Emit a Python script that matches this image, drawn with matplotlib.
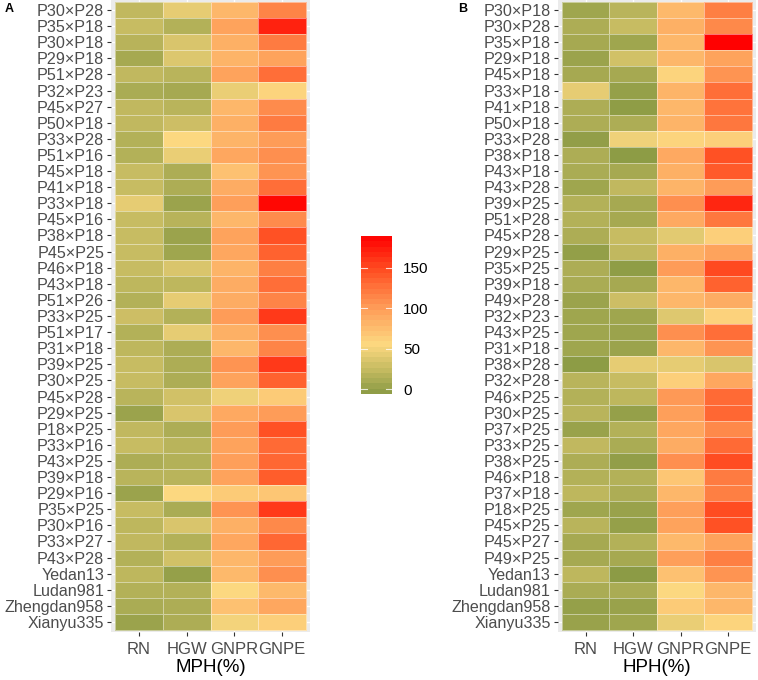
import matplotlib
matplotlib.use('Agg')
import matplotlib.pyplot as plt
import numpy as np
from matplotlib.colors import LinearSegmentedColormap, Normalize
from matplotlib.cm import ScalarMappable

plt.rcParams['font.family'] = ['Liberation Sans', 'DejaVu Sans']

traits = ['RN', 'HGW', 'GNPR', 'GNPE']

rows_a = ['P30×P28', 'P35×P18', 'P30×P18', 'P29×P18', 'P51×P28', 'P32×P23',
          'P45×P27', 'P50×P18', 'P33×P28', 'P51×P16', 'P45×P18', 'P41×P18',
          'P33×P18', 'P45×P16', 'P38×P18', 'P45×P25', 'P46×P18', 'P43×P18',
          'P51×P26', 'P33×P25', 'P51×P17', 'P31×P18', 'P39×P25', 'P30×P25',
          'P45×P28', 'P29×P25', 'P18×P25', 'P33×P16', 'P43×P25', 'P39×P18',
          'P29×P16', 'P35×P25', 'P30×P16', 'P33×P27', 'P43×P28', 'Yedan13',
          'Ludan981', 'Zhengdan958', 'Xianyu335']
rn_a = [22, 25, 17, 8, 22, 10, 22, 22, 15, 15, 25, 25, 42, 25, 25, 25, 25, 20,
        15, 28, 15, 20, 25, 25, 18, 3, 22, 25, 12, 18, 3, 25, 20, 22, 15, 20,
        15, 10, 3]
hgw_a = [42, 15, 35, 37, 18, 8, 18, 28, 55, 45, 12, 12, 3, 17, 3, 5, 35, 20,
         42, 15, 42, 12, 12, 12, 30, 35, 12, 18, 15, 18, 55, 10, 35, 15, 30, 0,
         15, 12, 12]
gnpr_a = [80, 95, 85, 82, 95, 45, 80, 85, 82, 92, 72, 88, 98, 80, 95, 92, 82, 88,
          88, 100, 85, 80, 105, 95, 48, 90, 100, 95, 98, 95, 65, 105, 85, 92, 80,
          78, 55, 72, 50]
gnpe_a = [115, 170, 120, 95, 128, 58, 110, 120, 100, 108, 105, 128, 185, 110,
          145, 135, 118, 128, 115, 158, 108, 115, 158, 135, 65, 100, 145, 130,
          132, 138, 68, 158, 112, 132, 100, 108, 78, 92, 62]

rows_b = ['P30×P18', 'P30×P28', 'P35×P18', 'P29×P18', 'P45×P18', 'P33×P18',
          'P41×P18', 'P50×P18', 'P33×P28', 'P38×P18', 'P43×P18', 'P43×P28',
          'P39×P25', 'P51×P28', 'P45×P28', 'P29×P25', 'P35×P25', 'P39×P18',
          'P49×P28', 'P32×P23', 'P43×P25', 'P31×P18', 'P38×P28', 'P32×P28',
          'P46×P25', 'P30×P25', 'P37×P25', 'P33×P25', 'P38×P25', 'P46×P18',
          'P37×P18', 'P18×P25', 'P45×P25', 'P45×P27', 'P49×P25', 'Yedan13',
          'Ludan981', 'Zhengdan958', 'Xianyu335']
rn_b = [5, 12, 8, 3, 8, 42, 12, 12, -2, 12, 10, 5, 15, 15, 12, -1, 12, 10, 3, 5,
        5, 5, -4, 18, 15, 18, 2, 22, 12, 15, 20, 5, 18, 8, 8, 20, 10, 0, 2]
hgw_b = [18, 25, 5, 30, 8, 0, -3, 12, 48, -4, 8, 22, 8, 8, 25, 22, -3, 8, 28, 5,
         3, 3, 42, 25, 20, 0, 15, 10, -2, 15, 12, 2, 0, 15, 8, -5, 10, 2, 5]
gnpr_b = [78, 85, 80, 80, 58, 82, 80, 82, 58, 90, 85, 82, 108, 90, 40, 85, 100,
          80, 80, 38, 108, 80, 42, 62, 102, 98, 92, 88, 108, 68, 80, 98, 95, 78,
          98, 72, 55, 65, 45]
gnpe_b = [118, 112, 188, 95, 105, 128, 125, 122, 62, 145, 140, 100, 168, 122, 62,
          95, 150, 135, 88, 60, 128, 105, 35, 92, 130, 132, 112, 130, 148, 120,
          118, 148, 145, 95, 118, 105, 80, 80, 58]

vmin, vmax = -6, 189
cb_ticks = [0, 50, 100, 150]

cmap = LinearSegmentedColormap.from_list('olive_red', [
    (0.0, '#8a9a44'),
    ((25 - vmin) / (vmax - vmin), '#c8bc62'),
    ((55 - vmin) / (vmax - vmin), '#fcd880'),
    ((100 - vmin) / (vmax - vmin), '#fe9c58'),
    ((145 - vmin) / (vmax - vmin), '#ff5224'),
    (1.0, '#ff0000')])
norm = Normalize(vmin=vmin, vmax=vmax)


def draw_panel(ax, rows, cols, xlabel):
    data = np.array(cols).T
    nr, nc = data.shape
    ax.set_facecolor('#ebebeb')
    for x in range(nc):
        ax.axvline(x + 0.5, color='white', lw=1.0, zorder=0)
    for y in range(nr):
        ax.axhline(y + 0.5, color='white', lw=1.0, zorder=0)
    ax.pcolormesh(np.arange(nc + 1), np.arange(nr + 1), data, cmap=cmap,
                  norm=norm, edgecolor=(1, 1, 1, 0.45), linewidth=0.5, zorder=1)
    ax.set_xlim(-0.085, nc + 0.085)
    ax.set_ylim(nr + 0.12, -0.12)
    ax.set_xticks(np.arange(nc) + 0.5)
    ax.set_xticklabels(traits, fontsize=12, color='#4d4d4d')
    ax.set_yticks(np.arange(nr) + 0.5)
    ax.set_yticklabels(rows, fontsize=11.6, color='#4d4d4d')
    ax.tick_params(length=3, width=0.8, color='#333333', pad=2)
    ax.tick_params(axis='x', pad=4)
    ax.set_xlabel(xlabel, fontsize=13.5, labelpad=2)
    for s in ax.spines.values():
        s.set_visible(False)


fig = plt.figure(figsize=(7.58, 6.80), dpi=100)

ax_a = fig.add_axes([111 / 758, 48 / 680, 199 / 758, 632 / 680])
draw_panel(ax_a, rows_a, [rn_a, hgw_a, gnpr_a, gnpe_a], 'MPH(%)')
ax_b = fig.add_axes([557.7 / 758, 48 / 680, 198.3 / 758, 632 / 680])
draw_panel(ax_b, rows_b, [rn_b, hgw_b, gnpr_b, gnpe_b], 'HPH(%)')

fig.text(5 / 758, 1 - 12 / 680, 'A', fontsize=9, fontweight='bold')
fig.text(458 / 758, 1 - 12 / 680, 'B', fontsize=9, fontweight='bold')

# colourbar
cax = fig.add_axes([361 / 758, 286 / 680, 31 / 758, 158 / 680])
sm = ScalarMappable(norm=norm, cmap=cmap)
cb = fig.colorbar(sm, cax=cax, boundaries=np.linspace(vmin, vmax, 31))
cb.outline.set_visible(False)
cb.set_ticks(cb_ticks)
cb.ax.tick_params(length=0, labelsize=11, pad=8)
for t in cb_ticks:
    cax.plot([0, 0.2], [t, t], color='white', lw=0.8, alpha=0.8,
             transform=cax.get_yaxis_transform())
    cax.plot([0.8, 1.0], [t, t], color='white', lw=0.8, alpha=0.8,
             transform=cax.get_yaxis_transform())

fig.savefig('out.png', dpi=100)
